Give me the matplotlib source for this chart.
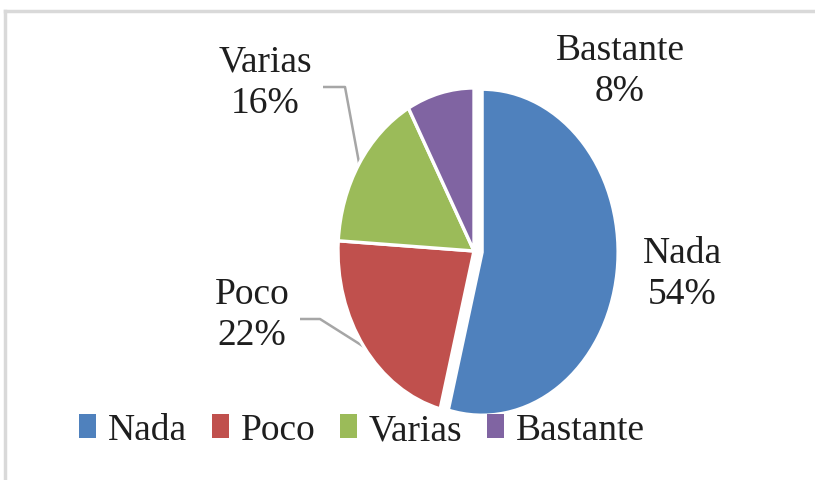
import matplotlib
matplotlib.use("Agg")
import matplotlib.pyplot as plt
from matplotlib.lines import Line2D
from matplotlib.patches import Patch
import numpy as np

categories = ["Nada", "Poco", "Varias", "Bastante"]
values = [54, 22, 16, 8]
labels_pct = ["54%", "22%", "16%", "8%"]
colors = ["#4F81BD", "#C0504D", "#9BBB59", "#8064A2"]

plt.rcParams['font.family'] = ['Liberation Serif', 'DejaVu Serif']
FS = 27
TXT = "#1e1e1e"

W, H = 815, 481
fig = plt.figure(figsize=(W / 100, H / 100), dpi=100)

# pie geometry (pixels, top-origin)
cx, cy, rx, ry = 474, 252, 136, 163
ax = fig.add_axes([(cx - 1.5 * rx) / W, (H - cy - 1.5 * ry) / H, 3 * rx / W, 3 * ry / H])

wedges, _ = ax.pie(values, colors=colors, startangle=90, counterclock=False,
                   explode=[0.06, 0, 0, 0],
                   wedgeprops=dict(edgecolor="white", linewidth=2.4))
ax.set_xlim(-1.5, 1.5)
ax.set_ylim(-1.5, 1.5)
ax.set_aspect('auto')
ax.axis('off')

def px2d(px, py):
    return ((px - cx) / rx, (cy - py) / ry)

# data label positions (pixel centres)
label_px = {"Nada": (682, 274), "Poco": (252, 315), "Varias": (265, 83), "Bastante": (620, 71)}
for cat, pct in zip(categories, labels_pct):
    x, y = px2d(*label_px[cat])
    ax.text(x, y, f"{cat}\n{pct}", ha='center', va='center', fontsize=FS,
            color=TXT, linespacing=1.25, multialignment='center')

# leader lines
total = sum(values)
cum = np.cumsum([0] + values)
def mid_angle(i):
    return np.deg2rad(90 - (cum[i] + values[i] / 2) / total * 360)

lc = "#a6a6a6"
# Varias
a = mid_angle(2)
p0 = px2d(323, 88); p1 = px2d(345, 88)
ax.plot([p0[0], p1[0], np.cos(a)], [p0[1], p1[1], np.sin(a)], color=lc, lw=1.8,
        solid_capstyle='butt', zorder=0)
# Poco
a = mid_angle(1)
p0 = px2d(300, 320); p1 = px2d(320, 320)
ax.plot([p0[0], p1[0], np.cos(a)], [p0[1], p1[1], np.sin(a)], color=lc, lw=1.8,
        solid_capstyle='butt', zorder=0)

# legend
handles = [Patch(facecolor=c, edgecolor='none') for c in colors]
leg = fig.legend(handles, categories, loc='center', bbox_to_anchor=(362 / W, (H - 431) / H),
                 ncol=4, frameon=False, fontsize=FS, handlelength=0.45, handleheight=0.6,
                 handletextpad=0.32, columnspacing=0.65, borderpad=0, labelcolor=TXT)

# chart border (light gray, top and left)
bc = "#d9d9d9"
fig.add_artist(Line2D([5 / W, 1.0], [1 - 11.5 / H, 1 - 11.5 / H], color=bc, lw=2.5,
                      transform=fig.transFigure))
fig.add_artist(Line2D([5 / W, 5 / W], [0, 1 - 11.5 / H], color=bc, lw=2.5,
                      transform=fig.transFigure))

fig.savefig("out.png", dpi=100)
